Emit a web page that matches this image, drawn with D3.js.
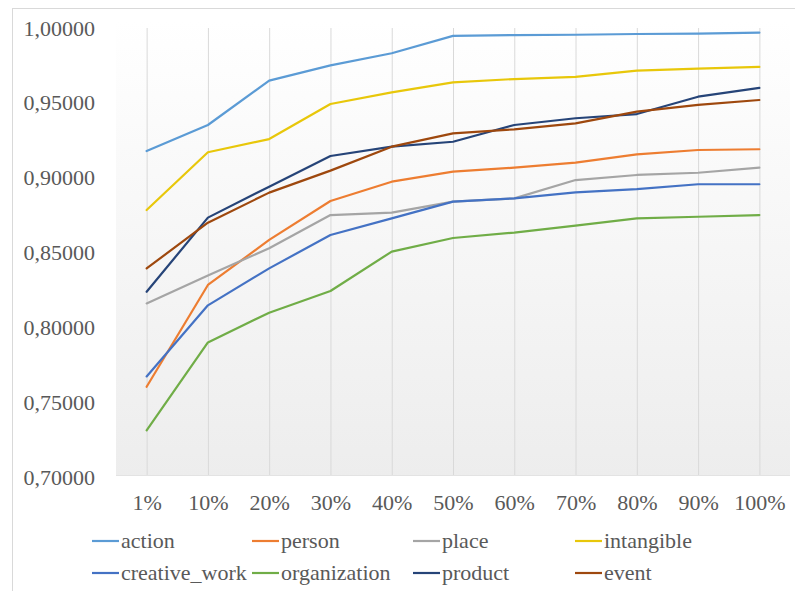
<!DOCTYPE html>
<html>
<head>
<meta charset="utf-8">
<script src="https://cdn.jsdelivr.net/npm/d3@7"></script>
</head>
<body style="margin:0">
<svg id="chart" width="795" height="591"></svg>
<script>
// Sample sizes on the x axis
const categories = ["1%", "10%", "20%", "30%", "40%", "50%", "60%", "70%", "80%", "90%", "100%"];

// Accuracy per entity type
const action        = [0.9178, 0.9352, 0.9648, 0.9750, 0.9831, 0.9947, 0.9953, 0.9955, 0.9960, 0.9962, 0.9969];
const person        = [0.7603, 0.8283, 0.8584, 0.8844, 0.8973, 0.9040, 0.9067, 0.9100, 0.9156, 0.9185, 0.9190];
const place         = [0.8160, 0.8347, 0.8528, 0.8750, 0.8766, 0.8840, 0.8862, 0.8984, 0.9018, 0.9033, 0.9067];
const intangible    = [0.8784, 0.9170, 0.9258, 0.9492, 0.9570, 0.9637, 0.9659, 0.9673, 0.9715, 0.9728, 0.9740];
const creative_work = [0.7672, 0.8147, 0.8394, 0.8617, 0.8728, 0.8840, 0.8862, 0.8902, 0.8924, 0.8956, 0.8956];
const organization  = [0.7312, 0.7899, 0.8098, 0.8243, 0.8506, 0.8597, 0.8633, 0.8679, 0.8728, 0.8739, 0.8750];
const product       = [0.8238, 0.8733, 0.8940, 0.9145, 0.9207, 0.9240, 0.9352, 0.9397, 0.9425, 0.9541, 0.9600];
const event         = [0.8394, 0.8699, 0.8900, 0.9047, 0.9207, 0.9296, 0.9323, 0.9363, 0.9441, 0.9486, 0.9519];

const seriesNames  = ["action", "person", "place", "intangible", "creative_work", "organization", "product", "event"];
const seriesValues = [action, person, place, intangible, creative_work, organization, product, event];
const seriesColors = ["#5B9BD5", "#ED7D31", "#A5A5A5", "#E8C70A", "#4472C4", "#70AD47", "#264478", "#9E480E"];

// Y axis tick values
const yTicks = [0.70, 0.75, 0.80, 0.85, 0.90, 0.95, 1.00];

const FONT = '"Liberation Serif"';
const TEXT_COLOR = "#595959";

const svg = d3.select("#chart");

const plot = { left: 116, right: 790, top: 28, bottom: 477 };

const x = d3.scalePoint().domain(categories).range([plot.left, plot.right]).padding(0.5);
const y = d3.scaleLinear().domain([0.70, 1.00]).range([plot.bottom, plot.top]);

const locale = d3.formatLocale({ decimal: ",", thousands: ".", grouping: [3], currency: ["", ""] });
const fmt = locale.format(".5f");

// Outer chart border
svg.append("rect")
  .attr("x", 12.5).attr("y", 8.5)
  .attr("width", 820).attr("height", 620)
  .attr("fill", "#ffffff")
  .attr("stroke", "#d9d9d9");

// Plot area with a soft vertical gradient
const defs = svg.append("defs");
const grad = defs.append("linearGradient").attr("id", "plotBg")
  .attr("x1", 0).attr("y1", 0).attr("x2", 0).attr("y2", 1);
grad.append("stop").attr("offset", "0%").attr("stop-color", "#ffffff");
grad.append("stop").attr("offset", "100%").attr("stop-color", "#ededed");

svg.append("rect")
  .attr("x", plot.left).attr("y", 20)
  .attr("width", plot.right - plot.left).attr("height", plot.bottom - 1 - 20)
  .attr("fill", "url(#plotBg)");

// Vertical gridlines at each category
svg.append("g").selectAll("line").data(categories).join("line")
  .attr("x1", d => x(d) + 0.5).attr("x2", d => x(d) + 0.5)
  .attr("y1", plot.top).attr("y2", plot.bottom - 1)
  .attr("stroke", "#d9d9d9").attr("stroke-width", 1);

// Horizontal axis line
svg.append("line")
  .attr("x1", plot.left).attr("x2", plot.right)
  .attr("y1", plot.bottom - 1.5).attr("y2", plot.bottom - 1.5)
  .attr("stroke", "#e3e3e3");

// Y axis labels
const yAxis = svg.append("g")
  .attr("transform", `translate(${plot.left - 21},0)`)
  .call(d3.axisLeft(y).tickValues(yTicks).tickFormat(fmt).tickSize(0).tickPadding(0));
yAxis.select(".domain").remove();
yAxis.attr("font-family", null).attr("font-size", null);
yAxis.selectAll("text")
  .style("font-family", FONT)
  .style("font-size", "22px")
  .style("fill", TEXT_COLOR);

// X axis labels
const xAxis = svg.append("g")
  .attr("transform", `translate(0,${plot.bottom})`)
  .call(d3.axisBottom(x).tickSize(0).tickPadding(17));
xAxis.select(".domain").remove();
xAxis.attr("font-family", null).attr("font-size", null);
xAxis.selectAll("text")
  .style("font-family", FONT)
  .style("font-size", "22px")
  .style("fill", TEXT_COLOR);

// Series lines
const line = d3.line()
  .x((d, i) => x(categories[i]))
  .y(d => y(d));

svg.append("g").selectAll("path").data(seriesValues).join("path")
  .attr("d", d => line(d))
  .attr("fill", "none")
  .attr("stroke", (d, i) => seriesColors[i])
  .attr("stroke-width", 2.2)
  .attr("stroke-linejoin", "round")
  .attr("stroke-linecap", "round");

// Legend: two rows of four entries
const legendCols = [92, 252, 413, 575];
const legendRows = [541, 573];
const legend = svg.append("g").selectAll("g").data(seriesNames).join("g")
  .attr("transform", (d, i) => `translate(${legendCols[i % 4]},${legendRows[Math.floor(i / 4)]})`);
legend.append("line")
  .attr("x1", 0).attr("x2", 27).attr("y1", 0).attr("y2", 0)
  .attr("stroke", (d, i) => seriesColors[i]).attr("stroke-width", 2.2);
legend.append("text")
  .attr("x", 29).attr("y", 0).attr("dy", "0.32em")
  .style("font-family", FONT)
  .style("font-size", "22px")
  .style("fill", TEXT_COLOR)
  .text(d => d);
</script>
</body>
</html>
